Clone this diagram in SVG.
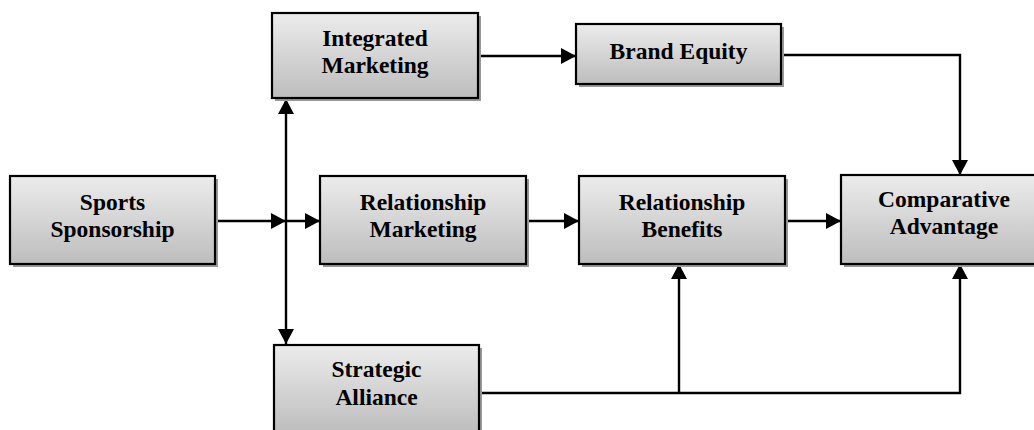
<svg xmlns="http://www.w3.org/2000/svg" width="1034" height="430" viewBox="0 0 1034 430">
<defs>
<linearGradient id="g" x1="0" y1="0" x2="0" y2="1">
<stop offset="0" stop-color="#ececec"/>
<stop offset="1" stop-color="#bdbdbd"/>
</linearGradient>
<marker id="arr" viewBox="0 0 15 16" refX="15" refY="8" markerWidth="15" markerHeight="16" markerUnits="userSpaceOnUse" orient="auto">
<path d="M0,0 L15,8 L0,16 Z" fill="#000"/>
</marker>
</defs>
<style>
.shadow{fill:#9a9a9a}
.box{fill:url(#g);stroke:#000;stroke-width:2.2}
.t{font-family:"Liberation Serif","Times New Roman",serif;font-weight:bold;font-size:23.5px;fill:#000;text-anchor:middle}
.c{fill:none;stroke:#000;stroke-width:2.4}
</style>
<rect width="1034" height="430" fill="#fff"/>
<g id="connectors">
<path class="c" d="M215,221 H286" marker-end="url(#arr)"/>
<path class="c" d="M286,221 H320" marker-end="url(#arr)"/>
<path class="c" d="M286,221 V99" marker-end="url(#arr)"/>
<path class="c" d="M286,221 V344" marker-end="url(#arr)"/>
<path class="c" d="M478,56 H576" marker-end="url(#arr)"/>
<path class="c" d="M781,55 H960 V175" marker-end="url(#arr)"/>
<path class="c" d="M526,221 H579" marker-end="url(#arr)"/>
<path class="c" d="M785,221 H841" marker-end="url(#arr)"/>
<path class="c" d="M479,393 H960 V264" marker-end="url(#arr)"/>
<path class="c" d="M679,393 V264" marker-end="url(#arr)"/>
</g>
<g id="sports-sponsorship">
<rect class="shadow" x="13" y="179" width="205" height="88"/>
<rect class="box" x="10" y="176" width="205" height="88"/>
<text class="t" x="112.5" y="210">Sports</text>
<text class="t" x="112.5" y="237">Sponsorship</text>
</g>
<g id="integrated-marketing">
<rect class="shadow" x="275" y="16" width="206" height="85"/>
<rect class="box" x="272" y="13" width="206" height="85"/>
<text class="t" x="375" y="46">Integrated</text>
<text class="t" x="375" y="73">Marketing</text>
</g>
<g id="brand-equity">
<rect class="shadow" x="579" y="27" width="205" height="60"/>
<rect class="box" x="576" y="24" width="205" height="60"/>
<text class="t" x="678.5" y="59">Brand Equity</text>
</g>
<g id="relationship-marketing">
<rect class="shadow" x="323" y="179" width="206" height="88"/>
<rect class="box" x="320" y="176" width="206" height="88"/>
<text class="t" x="423" y="210">Relationship</text>
<text class="t" x="423" y="237">Marketing</text>
</g>
<g id="relationship-benefits">
<rect class="shadow" x="582" y="179" width="206" height="88"/>
<rect class="box" x="579" y="176" width="206" height="88"/>
<text class="t" x="682" y="210">Relationship</text>
<text class="t" x="682" y="237">Benefits</text>
</g>
<g id="comparative-advantage">
<rect class="shadow" x="844" y="178" width="210" height="89"/>
<rect class="box" x="841" y="175" width="210" height="89"/>
<text class="t" x="944" y="207">Comparative</text>
<text class="t" x="944" y="234">Advantage</text>
</g>
<g id="strategic-alliance">
<rect class="shadow" x="277" y="348" width="205" height="88"/>
<rect class="box" x="274" y="345" width="205" height="88"/>
<text class="t" x="376.5" y="377">Strategic</text>
<text class="t" x="376.5" y="405">Alliance</text>
</g>
</svg>
